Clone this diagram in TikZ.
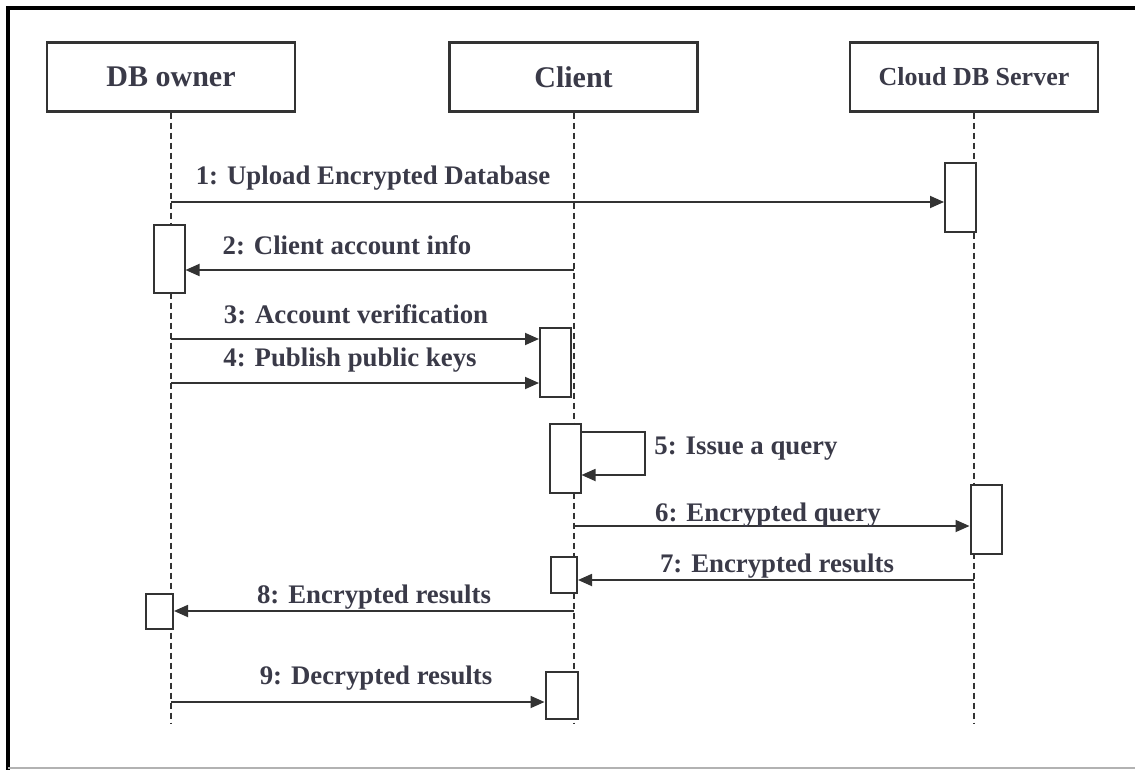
\documentclass[tikz,border=0pt]{standalone}
\usepackage{fontspec}
\setmainfont{Liberation Serif}
\usetikzlibrary{arrows.meta}
\definecolor{txt}{HTML}{3A3A48}
\definecolor{ln}{HTML}{333333}
\tikzset{
  head/.style={draw=ln, line width=1.1pt, fill=white, minimum width=124pt, minimum height=34.5pt, inner sep=0pt, font=\bfseries\fontsize{15}{18}\selectfont, text=txt},
  lifeline/.style={draw=ln, line width=1pt, dash pattern=on 3pt off 2pt},
  actbox/.style={draw=ln, line width=1pt, fill=white, minimum width=15.5pt, inner sep=0pt},
  msg/.style={draw=ln, line width=0.9pt, -{Triangle[length=7pt,width=6pt]}},
  lbl/.style={font=\bfseries\fontsize{13.4}{16}\selectfont, text=txt, inner sep=0pt},
}
\begin{document}
\begin{tikzpicture}[x=0.5pt,y=-0.5pt]
\useasboundingbox (0,0) rectangle (1135,770);
% frame
\draw[black, line width=1.6pt] (1135,8) -- (8,8) -- (8,770);
\draw[gray!60, line width=0.8pt] (8,768) -- (1135,768);
% headers
\node[head] (dbo) at (171,77) {DB owner};
\node[head] (cli) at (573.5,77) {Client};
\node[head, font=\bfseries\fontsize{13}{16}\selectfont] (srv) at (974,77) {Cloud DB Server};
% lifeline ends
\coordinate (dboEnd) at (171,723);
\coordinate (cliEnd) at (573.5,723);
\coordinate (srvEnd) at (974,723);
\draw[lifeline] (dbo.south) -- (dboEnd);
\draw[lifeline] (cli.south) -- (cliEnd);
\draw[lifeline] (srv.south) -- (srvEnd);
% activation boxes
\node[actbox, minimum height=34.5pt] (a1) at (960.5,197.5) {};
\node[actbox, minimum height=34pt] (a2) at (169,259) {};
\node[actbox, minimum height=34.5pt] (a3) at (555.5,362.5) {};
\node[actbox, minimum height=34.5pt] (a5) at (565,458.5) {};
\node[actbox, minimum height=34.5pt] (a6) at (986,519.5) {};
\node[actbox, minimum width=13pt, minimum height=18pt] (a7) at (564,575) {};
\node[actbox, minimum width=13.5pt, minimum height=17.5pt] (a8) at (159.5,611.5) {};
\node[actbox, minimum width=16pt, minimum height=23.5pt] (a9) at (561.5,695.5) {};
% message anchors
\coordinate (m1) at (171,202);
\coordinate (m2) at (573.5,270);
\coordinate (m3) at (171,339);
\coordinate (m4) at (171,383);
\coordinate (m5a) at (a5.north east |- 0,432);
\coordinate (m5b) at (645,432);
\coordinate (m5c) at (645,475);
\coordinate (m6) at (573.5,526);
\coordinate (m7) at (974,580);
\coordinate (m8) at (573.5,611);
\coordinate (m9) at (171,702);
% messages
\draw[msg] (m1) -- (m1 -| a1.west);
\draw[msg] (m2) -- (m2 -| a2.east);
\draw[msg] (m3) -- (m3 -| a3.west);
\draw[msg] (m4) -- (m4 -| a3.west);
\draw[msg] (m5a) -- (m5b) -- (m5c) -- (m5c -| a5.east);
\draw[msg] (m6) -- (m6 -| a6.west);
\draw[msg] (m7) -- (m7 -| a7.east);
\draw[msg] (m8) -- (m8 -| a8.east);
\draw[msg] (m9) -- (m9 -| a9.west);
% labels
\node[lbl] (l1) at (373,178) {1: Upload Encrypted Database};
\node[lbl] (l2) at (347,245) {2: Client account info};
\node[lbl] (l3) at (356,314) {3: Account verification};
\node[lbl] (l4) at (350,360) {4: Publish public keys};
\node[lbl, anchor=west] (l5) at (654,449) {5: Issue a query};
\node[lbl] (l6) at (768,515) {6: Encrypted query};
\node[lbl] (l7) at (777,566) {7: Encrypted results};
\node[lbl] (l8) at (374,597) {8: Encrypted results};
\node[lbl] (l9) at (376,678) {9: Decrypted results};
\end{tikzpicture}
\end{document}
